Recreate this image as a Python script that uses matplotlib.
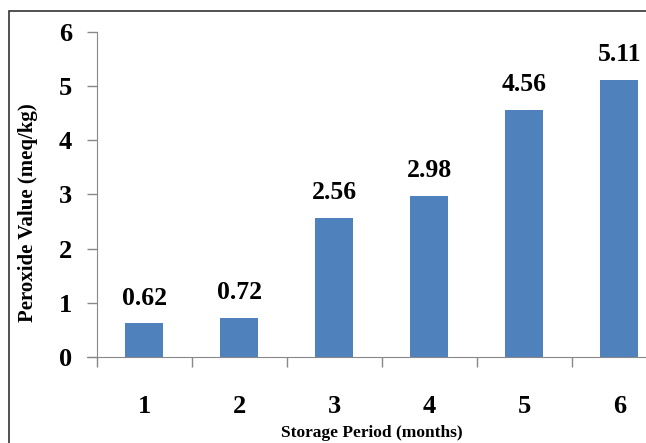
import matplotlib.pyplot as plt
from matplotlib.patches import Rectangle

months = ['1', '2', '3', '4', '5', '6']
peroxide = [0.62, 0.72, 2.56, 2.98, 4.56, 5.11]
y_ticks = [0, 1, 2, 3, 4, 5, 6]

plt.rcParams['font.family'] = ['Liberation Serif', 'DejaVu Serif']
plt.rcParams['font.weight'] = 'bold'

fig = plt.figure(figsize=(6.46, 4.43), dpi=100)
ax = fig.add_axes([0.150, 0.194, 0.882, 0.734])

x = list(range(len(months)))
ax.bar(x, peroxide, width=0.4, color='#4F81BD', zorder=2)

for xi, v in zip(x, peroxide):
    ax.annotate('%.2f' % v, (xi, v), xytext=(0, 10), textcoords='offset points',
                ha='center', va='bottom', fontsize=18.5, fontweight='bold')

ax.set_xlim(-0.5, len(months) - 0.5)
ax.set_ylim(0, 6)
ax.set_yticks(y_ticks)
ax.set_yticklabels([str(t) for t in y_ticks], fontsize=19, fontweight='bold')

# category labels at centres, tick marks at the boundaries
ax.set_xticks(x)
ax.set_xticklabels(months, fontsize=19, fontweight='bold')
ax.tick_params(axis='x', which='major', length=0, pad=27)
ax.set_xticks([i - 0.5 for i in range(len(months) + 1)], minor=True)
ax.tick_params(axis='x', which='minor', length=7, color='#888888', width=1)
ax.tick_params(axis='y', length=7, color='#888888', width=1, pad=11)

for s in ['top', 'right']:
    ax.spines[s].set_visible(False)
for s in ['left', 'bottom']:
    ax.spines[s].set_color('#888888')
ax.spines['bottom'].set_bounds(-0.6, len(months) - 0.5)

fig.text(0.043, 0.521, 'Peroxide Value (meq/kg)', rotation=90, ha='center', va='center',
         fontsize=15, fontweight='bold')
fig.text(0.576, 0.023, 'Storage Period (months)', ha='center', va='center',
         fontsize=12.5, fontweight='bold')

# outer frame around the chart
fig.patches.append(Rectangle((0.014, -0.2), 1.2, 0.2 + 0.975, transform=fig.transFigure,
                             fill=False, edgecolor='#333333', linewidth=1.2))

fig.savefig('out.png', dpi=100)
